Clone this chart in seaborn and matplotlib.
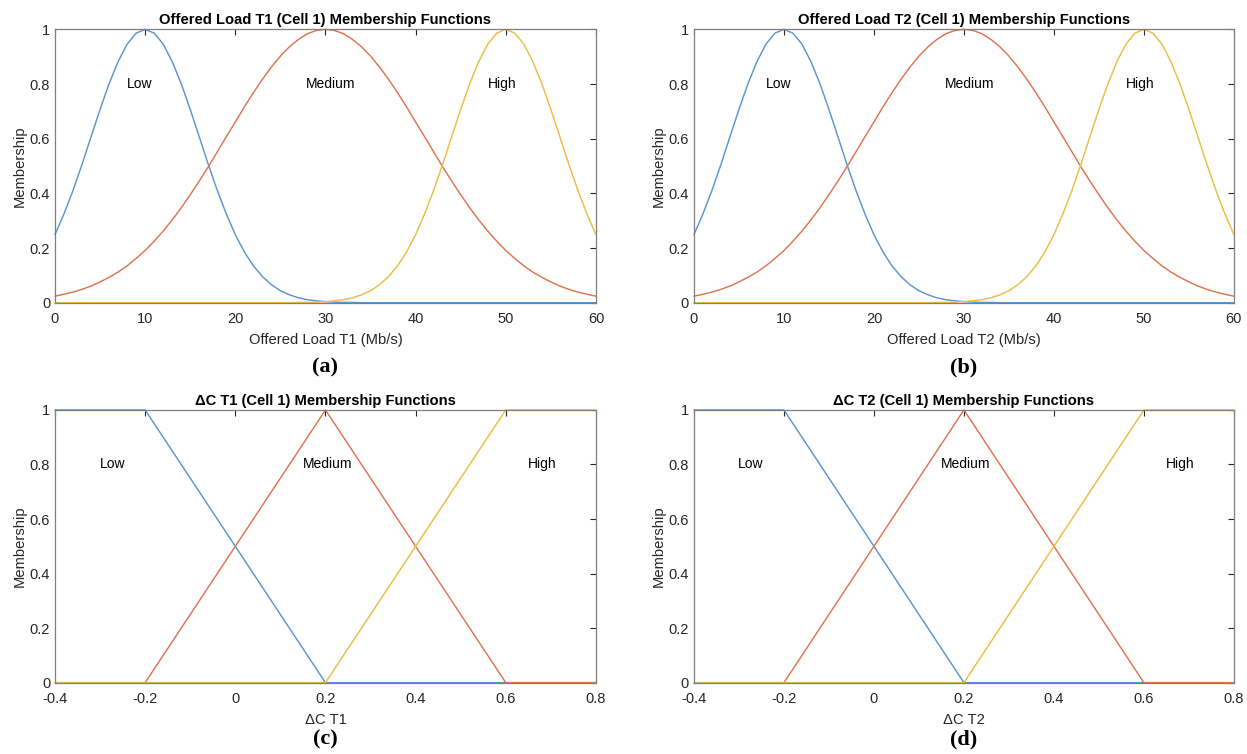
import numpy as np
import pandas as pd
import seaborn as sns
import matplotlib.pyplot as plt

# --- data ---
# offered load axis (Mb/s), sampled every 1 Mb/s
load_x = list(range(0, 61))
load_low = [0.249, 0.325, 0.411, 0.506, 0.607, 0.707, 0.801, 0.882, 0.946, 0.986,
            1.0, 0.986, 0.946, 0.882, 0.801, 0.707, 0.607, 0.506, 0.411, 0.325,
            0.249, 0.186, 0.135, 0.096, 0.066, 0.044, 0.029, 0.018, 0.011, 0.007,
            0.004, 0.002, 0.001, 0.001, 0.0, 0.0, 0.0, 0.0, 0.0, 0.0,
            0.0, 0.0, 0.0, 0.0, 0.0, 0.0, 0.0, 0.0, 0.0, 0.0,
            0.0, 0.0, 0.0, 0.0, 0.0, 0.0, 0.0, 0.0, 0.0, 0.0, 0.0]
load_medium = [0.024, 0.031, 0.039, 0.049, 0.061, 0.076, 0.093, 0.112, 0.135, 0.162,
               0.191, 0.225, 0.262, 0.303, 0.347, 0.395, 0.445, 0.497, 0.552, 0.607,
               0.661, 0.716, 0.768, 0.817, 0.862, 0.902, 0.936, 0.963, 0.984, 0.996,
               1.0, 0.996, 0.984, 0.963, 0.936, 0.902, 0.862, 0.817, 0.768, 0.716,
               0.661, 0.607, 0.552, 0.497, 0.445, 0.395, 0.347, 0.303, 0.262, 0.225,
               0.191, 0.162, 0.135, 0.112, 0.093, 0.076, 0.061, 0.049, 0.039, 0.031, 0.024]
load_high = [0.0, 0.0, 0.0, 0.0, 0.0, 0.0, 0.0, 0.0, 0.0, 0.0,
             0.0, 0.0, 0.0, 0.0, 0.0, 0.0, 0.0, 0.0, 0.0, 0.0,
             0.0, 0.0, 0.0, 0.0, 0.0, 0.0, 0.0, 0.001, 0.001, 0.002,
             0.004, 0.007, 0.011, 0.018, 0.029, 0.044, 0.066, 0.096, 0.135, 0.186,
             0.249, 0.325, 0.411, 0.506, 0.607, 0.707, 0.801, 0.882, 0.946, 0.986,
             1.0, 0.986, 0.946, 0.882, 0.801, 0.707, 0.607, 0.506, 0.411, 0.325, 0.249]

# delta C axis, triangular / shoulder functions (breakpoints)
dc_low_x = [-0.4, -0.2, 0.2, 0.8]
dc_low_y = [1, 1, 0, 0]
dc_medium_x = [-0.4, -0.2, 0.2, 0.6, 0.8]
dc_medium_y = [0, 0, 1, 0, 0]
dc_high_x = [-0.4, 0.2, 0.6, 0.8]
dc_high_y = [0, 0, 1, 1]

terms = ['Low', 'Medium', 'High']
load_label_x = [9.4, 30.6, 49.6]
dc_label_x = [-0.273, 0.204, 0.68]

load_ticks = [0, 10, 20, 30, 40, 50, 60]
dc_ticks = [-0.4, -0.2, 0, 0.2, 0.4, 0.6, 0.8]
dc_ticklabels = ['-0.4', '-0.2', '0', '0.2', '0.4', '0.6', '0.8']
mu_ticks = [0, 0.2, 0.4, 0.6, 0.8, 1]
mu_ticklabels = ['0', '0.2', '0.4', '0.6', '0.8', '1']

colores = ['#5a96d0', '#dc7650', '#ebbd45']
texto = '#262626'

sns.set_theme(style='white')
plt.rcParams['font.family'] = ['Liberation Sans', 'DejaVu Sans']

df_load = pd.concat([
    pd.DataFrame({'x': load_x, 'mu': load_low, 'term': 'Low'}),
    pd.DataFrame({'x': load_x, 'mu': load_medium, 'term': 'Medium'}),
    pd.DataFrame({'x': load_x, 'mu': load_high, 'term': 'High'}),
])
df_dc = pd.concat([
    pd.DataFrame({'x': dc_low_x, 'mu': dc_low_y, 'term': 'Low'}),
    pd.DataFrame({'x': dc_medium_x, 'mu': dc_medium_y, 'term': 'Medium'}),
    pd.DataFrame({'x': dc_high_x, 'mu': dc_high_y, 'term': 'High'}),
])

fig = plt.figure(figsize=(12.47, 7.54), dpi=100)

paneles = [
    # left, bottom, width, height, data, title, xlabel, tag, tag_y
    (0.0441, 0.5985, 0.4338, 0.3626, 'load', 'Offered Load T1 (Cell 1) Membership Functions', 'Offered Load T1 (Mb/s)', '(a)', 0.513),
    (0.5565, 0.5985, 0.4330, 0.3626, 'load', 'Offered Load T2 (Cell 1) Membership Functions', 'Offered Load T2 (Mb/s)', '(b)', 0.513),
    (0.0441, 0.0946, 0.4338, 0.3617, 'dc', '\u0394C T1 (Cell 1) Membership Functions', '\u0394C T1', '(c)', 0.019),
    (0.5565, 0.0946, 0.4330, 0.3617, 'dc', '\u0394C T2 (Cell 1) Membership Functions', '\u0394C T2', '(d)', 0.019),
]

for left, bottom, width, height, tipo, titulo, xlab, tag, tag_y in paneles:
    ax = fig.add_axes([left, bottom, width, height])
    data = df_load if tipo == 'load' else df_dc
    sns.lineplot(data=data, x='x', y='mu', hue='term', hue_order=terms,
                 palette=colores, legend=False, estimator=None, sort=False,
                 linewidth=1.05, ax=ax)
    for ln in ax.get_lines():
        ln.set_clip_on(False)

    if tipo == 'load':
        ax.set_xlim(0, 60)
        ax.set_xticks(load_ticks)
        ax.set_xticklabels([str(t) for t in load_ticks])
        label_x = load_label_x
    else:
        ax.set_xlim(-0.4, 0.8)
        ax.set_xticks(dc_ticks)
        ax.set_xticklabels(dc_ticklabels)
        label_x = dc_label_x
    ax.set_ylim(0, 1)
    ax.set_yticks(mu_ticks)
    ax.set_yticklabels(mu_ticklabels)

    for lx, nombre in zip(label_x, terms):
        ax.text(lx, 0.8, nombre, ha='center', va='center', fontsize=10, color='black')

    ax.set_title(titulo, fontsize=10.6, fontweight='bold', color='black', pad=3.5)
    ax.set_xlabel(xlab, fontsize=10.6, color=texto, labelpad=5)
    ax.set_ylabel('Membership', fontsize=10.6, color=texto, labelpad=2)
    ax.tick_params(axis='x', pad=6.5)
    ax.tick_params(axis='y', pad=3.5)
    ax.tick_params(direction='in', length=4, width=0.8, top=True, right=True,
                   labelsize=10.5, colors=texto)
    for s in ax.spines.values():
        s.set_color('#7f7f7f')
        s.set_linewidth(0.9)

    fig.text(left + width / 2, tag_y, tag, ha='center', va='center', fontsize=16,
             fontweight='bold', family='Liberation Serif', color='black')

plt.savefig('out.png', dpi=100)
